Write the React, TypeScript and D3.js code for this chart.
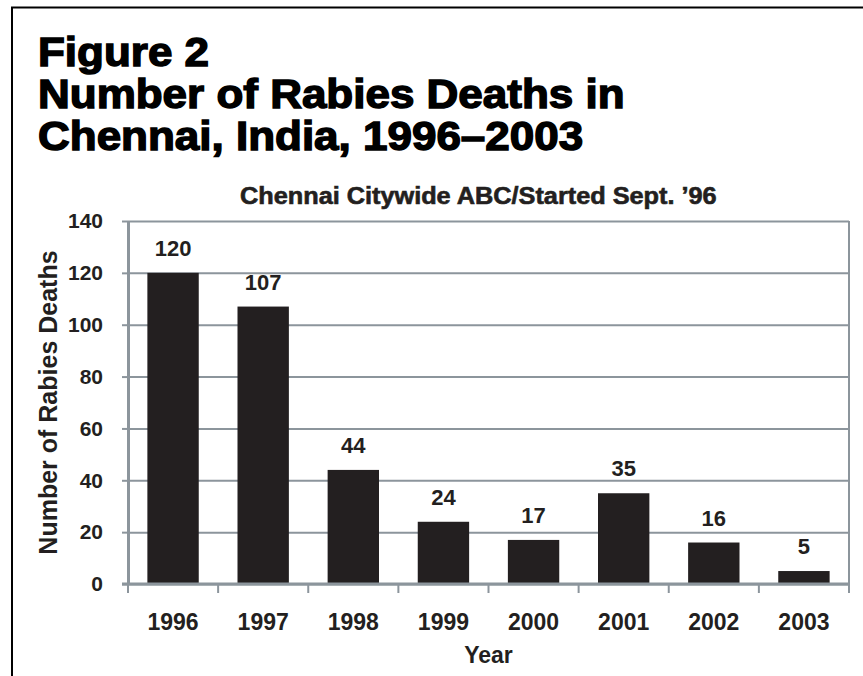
import React, { useRef, useEffect } from 'react';
import * as d3 from 'd3';

const years: string[] = ['1996', '1997', '1998', '1999', '2000', '2001', '2002', '2003'];
const deaths: number[] = [120, 107, 44, 24, 17, 35, 16, 5];
const yTicks: number[] = [0, 20, 40, 60, 80, 100, 120, 140];
const titleLines: string[] = ['Figure 2', 'Number of Rabies Deaths in', 'Chennai, India, 1996–2003'];
const subtitle = 'Chennai Citywide ABC/Started Sept. ’96';

const W = 863;
const H = 676;
const INK = '#231f20';
const GRID = '#8c959c';
const FONT = '"Liberation Sans", Arial, Helvetica, sans-serif';

const App: React.FC = () => {
  const svgRef = useRef<SVGSVGElement | null>(null);

  useEffect(() => {
    if (!svgRef.current) return;
    const svg = d3.select(svgRef.current);
    svg.selectAll('*').remove();

    const margin = { top: 221, right: 14, bottom: 92, left: 128 };
    const innerW = W - margin.left - margin.right;
    const innerH = H - margin.top - margin.bottom;

    // frame
    svg.append('line').attr('x1', 11).attr('x2', W).attr('y1', 7.5).attr('y2', 7.5)
      .attr('stroke', '#000').attr('stroke-width', 2);
    svg.append('line').attr('x1', 12).attr('x2', 12).attr('y1', 7).attr('y2', H)
      .attr('stroke', '#000').attr('stroke-width', 2);

    // title (heavy, slightly widened)
    svg.append('g')
      .attr('transform', 'translate(38,0) scale(1.1,1)')
      .selectAll('text')
      .data(titleLines)
      .join('text')
      .attr('x', 0)
      .attr('y', (_, i) => 66 + i * 42)
      .attr('font-family', FONT)
      .attr('font-weight', 'bold')
      .attr('font-size', 40)
      .attr('fill', '#000')
      .attr('stroke', '#000')
      .attr('stroke-width', 1.4)
      .text(d => d);

    const g = svg.append('g').attr('transform', `translate(${margin.left},${margin.top})`);

    const x = d3.scaleBand<string>().domain(years).range([0, innerW]).padding(0);
    const y = d3.scaleLinear().domain([0, 140]).range([innerH, 0]);

    g.append('g')
      .attr('transform', `translate(${240 - margin.left},-17) scale(1.1,1)`)
      .append('text')
      .attr('x', 0)
      .attr('y', 0)
      .attr('font-family', FONT)
      .attr('font-weight', 'bold')
      .attr('font-size', 23)
      .attr('fill', INK)
      .attr('stroke', INK)
      .attr('stroke-width', 0.6)
      .text(subtitle);

    // grid lines
    g.append('g')
      .call(d3.axisLeft(y).tickValues(yTicks).tickSize(-innerW).tickFormat(() => ''))
      .call(s => s.select('.domain').remove())
      .call(s => s.selectAll('line').attr('stroke', GRID).attr('stroke-width', 2));

    // y axis
    const yAxis = g.append('g')
      .call(d3.axisLeft(y).tickValues(yTicks).tickSize(6).tickPadding(19).tickSizeOuter(0));
    yAxis.select('.domain').attr('stroke', GRID).attr('stroke-width', 3);
    yAxis.selectAll('.tick line').attr('stroke', GRID).attr('stroke-width', 2);
    yAxis.selectAll('.tick text')
      .attr('font-family', FONT)
      .attr('font-weight', 'bold')
      .attr('font-size', 21)
      .attr('fill', INK);

    // right border
    g.append('line')
      .attr('x1', innerW).attr('x2', innerW)
      .attr('y1', 0).attr('y2', innerH + 9)
      .attr('stroke', GRID).attr('stroke-width', 2);

    // bars
    const barW = x.bandwidth() * 0.57;
    g.append('g')
      .selectAll('rect')
      .data(deaths)
      .join('rect')
      .attr('x', (_, i) => (x(years[i]) ?? 0) + (x.bandwidth() - barW) / 2)
      .attr('y', d => y(d))
      .attr('width', barW)
      .attr('height', d => y(0) - y(d))
      .attr('fill', INK);

    g.append('g')
      .selectAll('text')
      .data(deaths)
      .join('text')
      .attr('x', (_, i) => (x(years[i]) ?? 0) + x.bandwidth() / 2)
      .attr('y', d => y(d) - 17)
      .attr('text-anchor', 'middle')
      .attr('font-family', FONT)
      .attr('font-weight', 'bold')
      .attr('font-size', 22)
      .attr('fill', INK)
      .text(d => d);

    // x axis
    g.append('line')
      .attr('x1', -6).attr('x2', innerW)
      .attr('y1', innerH).attr('y2', innerH)
      .attr('stroke', GRID).attr('stroke-width', 3);
    const boundaries = years.map(yr => x(yr) ?? 0).concat([innerW]);
    g.append('g')
      .selectAll('line')
      .data(boundaries)
      .join('line')
      .attr('x1', d => d).attr('x2', d => d)
      .attr('y1', innerH).attr('y2', innerH + 9)
      .attr('stroke', GRID).attr('stroke-width', 2);

    g.append('g')
      .selectAll('text')
      .data(years)
      .join('text')
      .attr('x', d => (x(d) ?? 0) + x.bandwidth() / 2)
      .attr('y', innerH + 46)
      .attr('text-anchor', 'middle')
      .attr('font-family', FONT)
      .attr('font-weight', 'bold')
      .attr('font-size', 23)
      .attr('fill', INK)
      .text(d => d);

    g.append('text')
      .attr('x', innerW / 2)
      .attr('y', innerH + 79)
      .attr('text-anchor', 'middle')
      .attr('font-family', FONT)
      .attr('font-weight', 'bold')
      .attr('font-size', 23)
      .attr('fill', INK)
      .text('Year');

    g.append('text')
      .attr('transform', `translate(${57 - margin.left},${innerH / 2}) rotate(-90)`)
      .attr('text-anchor', 'middle')
      .attr('font-family', FONT)
      .attr('font-weight', 'bold')
      .attr('font-size', 25)
      .attr('fill', INK)
      .text('Number of Rabies Deaths');
  }, []);

  return (
    <svg
      ref={svgRef}
      width={W}
      height={H}
      style={{ position: 'absolute', left: 0, top: 0, background: '#fff' }}
    />
  );
};

export default App;
